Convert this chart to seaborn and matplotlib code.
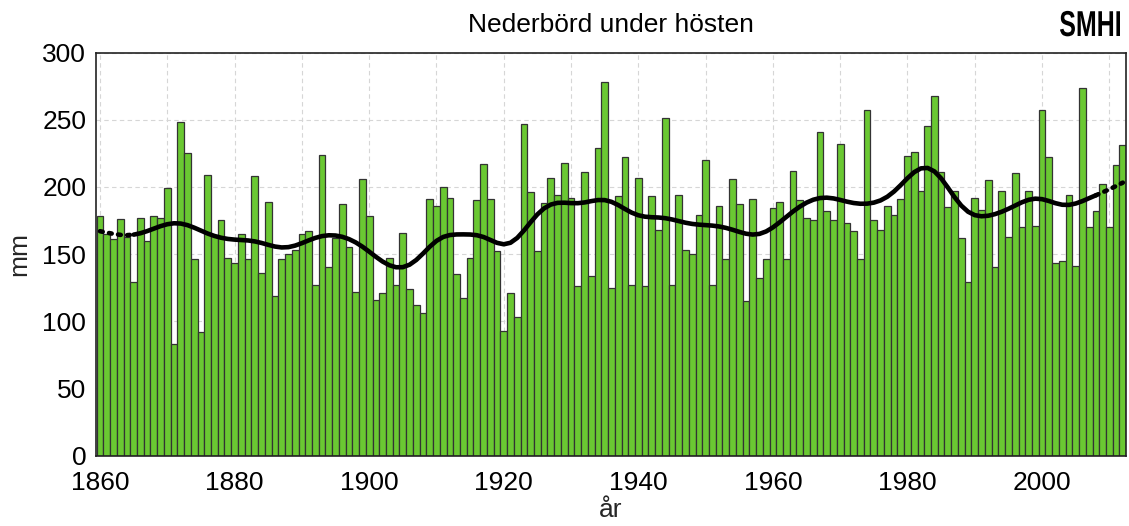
import numpy as np
import pandas as pd
import matplotlib
matplotlib.use("Agg")
import matplotlib.pyplot as plt
from matplotlib.textpath import TextPath
from matplotlib.patches import PathPatch
from matplotlib.font_manager import FontProperties
from matplotlib.transforms import Affine2D
import seaborn as sns

# Autumn precipitation (mm), one value per year 1860-2012
years = list(range(1860, 2013))
rain = [
    178, 165, 161, 176, 163, 129, 177, 160, 178, 177,  # 1860s
    199, 83, 248, 225, 146, 92, 209, 164, 175, 147,    # 1870s
    143, 165, 146, 208, 136, 189, 119, 146, 150, 153,  # 1880s
    165, 167, 127, 224, 140, 162, 187, 155, 122, 206,  # 1890s
    178, 116, 121, 147, 127, 166, 124, 112, 106, 191,  # 1900s
    186, 200, 192, 135, 117, 147, 190, 217, 191, 152,  # 1910s
    93, 121, 103, 247, 196, 152, 188, 207, 194, 218,   # 1920s
    192, 126, 211, 134, 229, 278, 125, 193, 222, 127,  # 1930s
    207, 126, 193, 168, 251, 127, 194, 153, 150, 179,  # 1940s
    220, 127, 186, 146, 206, 187, 115, 191, 132, 146,  # 1950s
    184, 189, 146, 212, 190, 177, 175, 241, 182, 175,  # 1960s
    232, 173, 167, 146, 257, 175, 168, 186, 179, 191,  # 1970s
    223, 226, 197, 245, 268, 211, 185, 197, 162, 129,  # 1980s
    192, 183, 205, 140, 197, 163, 210, 170, 197, 171,  # 1990s
    257, 222, 143, 145, 194, 141, 274, 170, 182, 202,  # 2000s
    170, 216, 231,                                     # 2010-2012
]
xticks = [1860, 1880, 1900, 1920, 1940, 1960, 1980, 2000]
yticks = [0, 50, 100, 150, 200, 250, 300]

df = pd.DataFrame({"year": years, "mm": rain})


def gauss_smooth(y, sigma):
    # gaussian weighted average, weights renormalised at the ends
    y = np.asarray(y, dtype=float)
    idx = np.arange(len(y))
    w = np.exp(-0.5 * ((idx[:, None] - idx[None, :]) / sigma) ** 2)
    return (w @ y) / w.sum(axis=1)


df["smooth"] = gauss_smooth(df["mm"], 3.0)

sns.set_style("white")
plt.rcParams["font.family"] = ["Liberation Sans", "DejaVu Sans"]

fig = plt.figure(figsize=(11.29, 5.26), dpi=100)
ax = fig.add_axes([0.085, 0.134, 0.9125, 0.766])

sns.barplot(data=df, x="year", y="mm", native_scale=True, width=1,
            color="#6ac832", saturation=1, edgecolor="#333333",
            linewidth=0.9, ax=ax, zorder=2)

edge = 5
mid = df.iloc[edge:len(df) - edge + 1]
head = df.iloc[:edge + 1]
tail = df.iloc[len(df) - edge:]
sns.lineplot(data=mid, x="year", y="smooth", color="black", lw=3.3,
             ax=ax, zorder=4)
for part in (head, tail):
    sns.lineplot(data=part, x="year", y="smooth", color="black", lw=3.3,
                 linestyle=(0, (0.6, 1.4)), dash_capstyle="round",
                 ax=ax, zorder=4)

ax.set_xlim(1859.4, 2012.5)
ax.set_ylim(0, 300)
ax.set_xticks(range(1860, 2020, 10))
ax.set_xticklabels([str(y) if y in xticks else "" for y in range(1860, 2020, 10)])
ax.set_yticks(yticks)
ax.grid(True, color="#d6d6d6", linestyle=(0, (4, 3)), linewidth=0.8)
ax.set_axisbelow(True)
ax.tick_params(axis="both", length=0, labelsize=19, colors="black")
ax.tick_params(axis="x", pad=11)
ax.tick_params(axis="y", pad=7)
for s in ax.spines.values():
    s.set_color("#222222")
    s.set_linewidth(1.2)

ax.set_xlabel("år", fontsize=19, labelpad=2)
ax.set_ylabel("mm", fontsize=19, labelpad=8)
ax.set_title("Nederbörd under hösten", fontsize=19, pad=15, color="black")

# condensed bold logo in the top right corner (figure pixels)
logo = TextPath((0, 0), "SMHI", size=36,
                prop=FontProperties(family="Liberation Sans", weight="bold"))
bb = logo.get_extents()
sx = 60 / bb.width
logo_tf = Affine2D().translate(-bb.x0, 0).scale(sx, 1.0).translate(1060, 490)
fig.patches.append(PathPatch(logo, transform=logo_tf, color="black", lw=0,
                             figure=fig))

fig.savefig("out.png", dpi=100)
